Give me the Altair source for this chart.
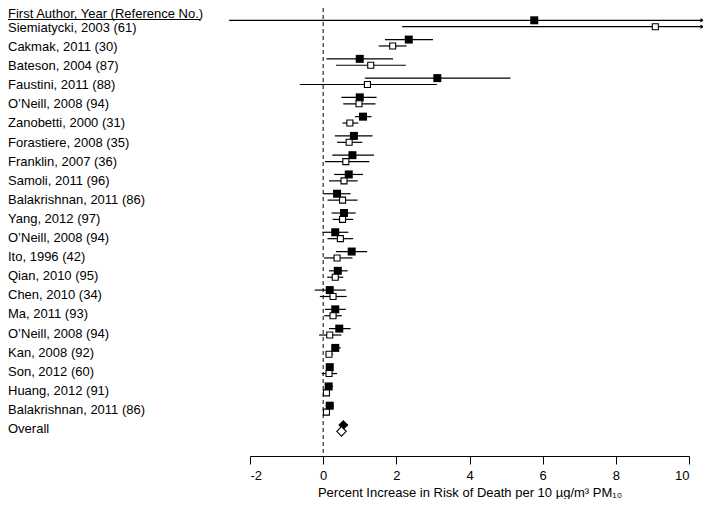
import altair as alt
import pandas as pd

studies = ["Siemiatycki, 2003 (61)", "Cakmak, 2011 (30)", "Bateson, 2004 (87)", "Faustini, 2011 (88)",
           "O\u2019Neill, 2008 (94)", "Zanobetti, 2000 (31)", "Forastiere, 2008 (35)", "Franklin, 2007 (36)",
           "Samoli, 2011 (96)", "Balakrishnan, 2011 (86)", "Yang, 2012 (97)", "O\u2019Neill, 2008 (94)",
           "Ito, 1996 (42)", "Qian, 2010 (95)", "Chen, 2010 (34)", "Ma, 2011 (93)", "O\u2019Neill, 2008 (94)",
           "Kan, 2008 (92)", "Son, 2012 (60)", "Huang, 2012 (91)", "Balakrishnan, 2011 (86)"]

filled_est = [5.77, 2.34, 1.00, 3.12, 1.00, 1.09, 0.84, 0.80, 0.70, 0.38, 0.57, 0.33, 0.78, 0.40, 0.18, 0.33, 0.44, 0.33, 0.18, 0.15, 0.18]
filled_lo = [-2.57, 1.69, 0.09, 1.14, 0.50, 0.87, 0.32, 0.25, 0.30, 0.00, 0.23, -0.02, 0.35, 0.16, -0.23, 0.05, 0.16, 0.23, 0.09, 0.05, 0.07]
filled_hi = [10.38, 3.00, 1.91, 5.12, 1.46, 1.32, 1.35, 1.39, 1.09, 0.75, 0.89, 0.69, 1.20, 0.67, 0.62, 0.62, 0.75, 0.48, 0.27, 0.27, 0.29]

open_est = [9.08, 1.90, 1.30, 1.21, 0.98, 0.73, 0.71, 0.62, 0.57, 0.53, 0.53, 0.47, 0.38, 0.33, 0.27, 0.27, 0.18, 0.16, 0.16, 0.09, 0.09]
open_lo = [2.16, 1.52, 0.35, -0.64, 0.55, 0.53, 0.38, 0.05, 0.16, 0.12, 0.26, 0.12, 0.02, 0.11, -0.09, 0.03, -0.11, 0.07, -0.04, 0.03, 0.02]
open_hi = [10.38, 2.28, 2.26, 3.11, 1.43, 0.96, 1.07, 1.26, 0.94, 0.94, 0.82, 0.82, 0.80, 0.55, 0.64, 0.51, 0.50, 0.27, 0.38, 0.18, 0.16]

overall_label = "Overall"
overall_filled = (0.55, 0.45, 0.68)
overall_open = (0.50, 0.42, 0.58)

header = "First Author, Year (Reference No.)"
x_ticks = [-2, 0, 2, 4, 6, 8, 10]
x_title = "Percent Increase in Risk of Death per 10 \u00b5g/m\u00b3 PM\u2081\u2080"

FONT = "Liberation Sans"
W, H = 439, 446

n = len(studies)
f_df = pd.DataFrame({"row": range(n), "est": filled_est, "lo": filled_lo, "hi": filled_hi})
o_df = pd.DataFrame({"row": range(n), "est": open_est, "lo": open_lo, "hi": open_hi})
f_arrow = f_df[f_df["hi"] > 10]
o_arrow = o_df[o_df["hi"] > 10]
lab_df = pd.DataFrame({"row": list(range(n + 1)), "label": studies + [overall_label]})
ov_f = pd.DataFrame({"row": [n], "est": [overall_filled[0]], "lo": [overall_filled[1]], "hi": [overall_filled[2]]})
ov_o = pd.DataFrame({"row": [n], "est": [overall_open[0]], "lo": [overall_open[1]], "hi": [overall_open[2]]})

xs = alt.Scale(domain=[-2, 10], nice=False, zero=False)
ys = alt.Scale(domain=[-0.7006, 22.444], reverse=True, nice=False, zero=False)

X = lambda f: alt.X(f, type="quantitative", scale=xs,
                   axis=alt.Axis(values=x_ticks, labelExpr="datum.value", title=x_title, grid=False,
                                 tickSize=8, labelPadding=5, titlePadding=4, domainColor="black",
                                 tickColor="black", labelColor="black", titleColor="black",
                                 labelFont=FONT, titleFont=FONT, labelFontSize=13, titleFontSize=13,
                                 titleFontWeight="normal"))
Y = alt.Y("row:Q", scale=ys, axis=None)

OFF = 3.2

def ci(df, off):
    return alt.Chart(df).mark_rule(color="black", strokeWidth=1.2, yOffset=off).encode(
        x=X("lo"), x2="hi", y=Y)

def arrow(df, off):
    return alt.Chart(df).mark_point(shape="M-1,-0.6L0,0L-1,0.6", filled=False, color="black",
                                    size=25, strokeWidth=1.2, opacity=1, yOffset=off).encode(
        x=X("hi"), y=Y)

filled_ci = ci(f_df, -OFF)
open_ci = ci(o_df, OFF)
filled_pts = alt.Chart(f_df).mark_square(size=64, color="black", opacity=1, yOffset=-OFF).encode(x=X("est"), y=Y)
open_pts = alt.Chart(o_df).mark_point(shape="square", size=36, fill="white", stroke="black", strokeWidth=1.1,
                                      filled=True, opacity=1, yOffset=OFF).encode(x=X("est"), y=Y)

ovf_ci = ci(ov_f, -OFF)
ovo_ci = ci(ov_o, OFF)
ovf_pt = alt.Chart(ov_f).mark_point(shape="diamond", size=100, filled=True, color="black", opacity=1,
                                    yOffset=-OFF).encode(x=X("est"), y=Y)
ovo_pt = alt.Chart(ov_o).mark_point(shape="diamond", size=90, fill="white", stroke="black", strokeWidth=1.1,
                                    filled=True, opacity=1, yOffset=OFF).encode(x=X("est"), y=Y)

zero_line = alt.Chart(pd.DataFrame({"z": [0]})).mark_rule(color="black", strokeDash=[4, 3], strokeWidth=1).encode(
    x=X("z"), y=alt.value(-2), y2=alt.value(H))

# label text baselines sit slightly below each marker pair, with a slightly tighter line pitch
labels = alt.Chart(lab_df).transform_calculate(
    ly="0.441 + datum.row * 0.9909"
).mark_text(align="left", baseline="alphabetic", font=FONT, fontSize=13, color="black").encode(
    x=alt.value(-242), y=alt.Y("ly:Q", scale=ys, axis=None), text="label:N")

head = alt.Chart(pd.DataFrame({"t": [header]})).mark_text(align="left", baseline="alphabetic", font=FONT,
                                                          fontSize=13, color="black").encode(
    x=alt.value(-242), y=alt.value(8), text="t:N")
underline = alt.Chart(pd.DataFrame({"t": [header]})).mark_rule(color="black", strokeWidth=1).encode(
    x=alt.value(-242), x2=alt.value(-50), y=alt.value(9.5))

chart = alt.layer(
    zero_line, filled_ci, open_ci, arrow(f_arrow, -OFF), arrow(o_arrow, OFF),
    filled_pts, open_pts, ovf_ci, ovo_ci, ovf_pt, ovo_pt, labels, head, underline
).properties(
    width=W, height=H,
    autosize=alt.AutoSizeParams(type="none"),
    padding={"left": 242, "top": 2, "right": 14, "bottom": 43},
).configure(background="white").configure_view(stroke=None)

chart.save("out.html", embed_options={"renderer": "svg", "actions": False})
